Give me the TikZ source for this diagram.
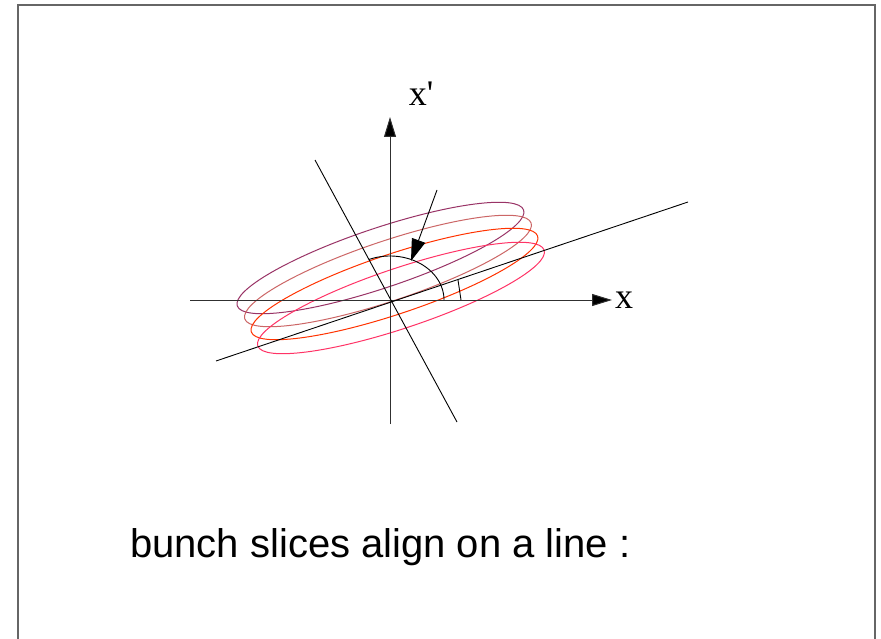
\documentclass[tikz,border=0pt]{standalone}
\usepackage{fontspec}
\setmainfont{Liberation Serif}
\setsansfont{Liberation Sans}
\usetikzlibrary{arrows.meta}
\definecolor{cpurple}{HTML}{993366}
\definecolor{crose}{HTML}{CC6666}
\definecolor{corange}{HTML}{FF3300}
\definecolor{cpink}{HTML}{FF3366}
\definecolor{caxis}{HTML}{303030}
\tikzset{
  axisline/.style={draw=caxis, line width=1pt, -{Triangle[length=20pt,width=12pt,fill=black]}},
  thinline/.style={draw=black, line width=0.9pt},
  slice/.style={line width=1pt},
  framebox/.style={draw=black!60, line width=1.6pt},
  lbl/.style={inner sep=0pt, font=\fontsize{36}{40}\selectfont},
  caption/.style={inner sep=0pt, anchor=base west, font=\sffamily\fontsize{40}{46}\selectfont}
}
\begin{document}
\begin{tikzpicture}[x=1pt,y=-1pt]
\useasboundingbox (0,0) rectangle (881,639);
\fill[white] (0,0) rectangle (881,639);
% frame
\coordinate (fbl) at (18,645);
\coordinate (ftl) at (18,5);
\coordinate (ftr) at (875,5);
\coordinate (fbr) at (875,645);
\draw[framebox] (fbl) -- (ftl) -- (ftr) -- (fbr);
% slices (ellipses)
\coordinate (c1) at (380.5,258);
\coordinate (c2) at (388,271);
\coordinate (c3) at (394.5,284);
\coordinate (c4) at (401,298);
\draw[slice, cpurple, rotate around={18.5:(c1)}] (c1) ellipse [x radius=151, y radius=30];
\draw[slice, crose, rotate around={18.5:(c2)}] (c2) ellipse [x radius=151, y radius=30];
\draw[slice, corange, rotate around={18.5:(c3)}] (c3) ellipse [x radius=151, y radius=30];
\draw[slice, cpink, rotate around={18.5:(c4)}] (c4) ellipse [x radius=151, y radius=30];
% axes
\coordinate (O) at (390,300);
\coordinate (xs) at (190,300);
\coordinate (xe) at (612,300);
\coordinate (ys) at (390,424);
\coordinate (ye) at (390,117);
\draw[axisline] (xs) -- (xe);
\draw[axisline] (ys) -- (ye);
\node[lbl, anchor=west] (xlab) at (615,300) {x};
\node[lbl] (xplab) at (421,94) {x\textquotesingle};
% tilted lines
\coordinate (n1) at (315,160);
\coordinate (n2) at (457,422);
\coordinate (l1) at (216,361);
\coordinate (l2) at (688,202);
\draw[thinline] (n1) -- (n2);
\draw[thinline] (l1) -- (l2);
% angle arc
\draw[thinline] plot[domain=0:113, samples=60, smooth] ({390+54*cos(\x)},{300-44*sin(\x)});
% small angle mark
\coordinate (t1) at (458,280);
\coordinate (t2) at (461,300);
\draw[thinline] (t1) -- (t2);
% arrow to arc
\coordinate (a1) at (437,190);
\coordinate (a2) at (411,261);
\draw[thinline, -{Triangle[length=22pt,width=14pt]}] (a1) -- (a2);
% caption
\node[caption] (cap) at (130,557) {bunch slices align on a line :};
\end{tikzpicture}
\end{document}
